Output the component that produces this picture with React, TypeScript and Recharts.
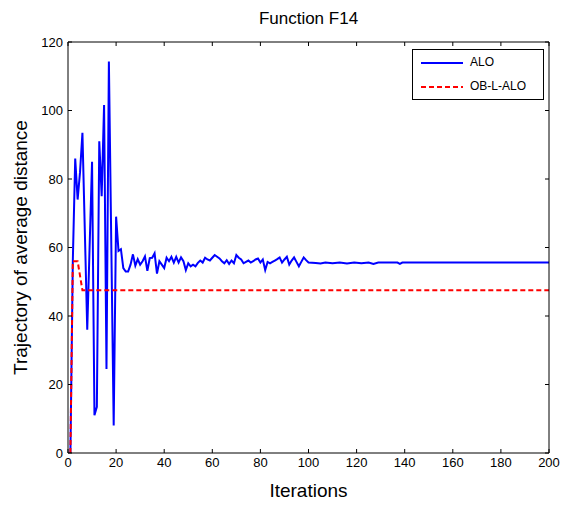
import { Line, LineChart, XAxis, YAxis } from 'recharts'

const aloIter = [
  1, 2, 3, 4, 5, 6, 8, 10, 11, 12, 13, 14, 15, 16, 17, 19, 20, 21, 22, 23, 24, 25, 26, 27, 28, 29, 30,
  31, 32, 33, 34, 35, 36, 37, 38, 39, 40, 41, 42, 43, 44, 45, 46, 47, 48, 49, 50, 51, 52, 53, 54, 55,
  56, 57, 58, 59, 60, 61, 62, 63, 64, 65, 66, 67, 68, 69, 70, 71, 72, 73, 74, 75, 76, 77, 78, 79, 80,
  81, 82, 83, 84, 85, 86, 87, 88, 89, 90, 91, 92, 93, 94, 95, 96, 97, 98, 99, 100, 103, 105, 107, 110,
  113, 116, 119, 122, 125, 127, 129, 137, 138, 139, 200,
]
const aloValues = [
  0, 56, 86, 74, 82, 93.5, 36, 85, 11, 13.5, 91, 75, 101.6, 24.5, 114.3, 8, 69, 59, 59.5, 54, 53, 53,
  55, 58, 54.7, 56.6, 55, 56, 57.4, 53.2, 56.9, 57, 58.3, 52.4, 56, 55, 54, 57, 56, 57.3, 55.6, 57.3,
  55.6, 57.1, 56, 53.4, 55.4, 54.5, 55, 54.5, 55.5, 56.2, 55.6, 57, 56.5, 56.2, 57, 57.8, 57.3, 56.8,
  56, 55.4, 56.3, 55.2, 56.2, 55.4, 57.8, 57, 56.5, 55.4, 55.8, 56.2, 55.6, 56, 56.5, 56.8, 55.6, 56.5,
  53.4, 55.8, 55.4, 55.8, 56.2, 56.6, 57.1, 55.6, 56.5, 57.3, 55, 56.2, 57.1, 55.8, 54.5, 55.8, 57.1,
  56.3, 55.6, 55.5, 55.3, 55.6, 55.4, 55.6, 55.3, 55.6, 55.4, 55.6, 55.2, 55.6, 55.6, 55.2, 55.6, 55.6,
]

const oblIter = [1, 2, 4, 6, 200]
const oblValues = [0, 56, 56, 47.5, 47.5]

const xTicks = [0, 20, 40, 60, 80, 100, 120, 140, 160, 180, 200]
const yTicks = [0, 20, 40, 60, 80, 100, 120]

const aloData = aloIter.map((it, i) => ({ it, v: aloValues[i] }))
const oblData = oblIter.map((it, i) => ({ it, v: oblValues[i] }))

const font = 'Liberation Sans, Arial, sans-serif'
const tickStyle = { fill: '#000', fontSize: 13, fontFamily: font }

function LegendBox() {
  return (
    <div
      style={{
        position: 'absolute',
        left: 412,
        top: 49,
        width: 132,
        height: 51,
        border: '1px solid #000',
        background: '#fff',
        fontFamily: font,
        fontSize: 12,
        boxSizing: 'border-box',
      }}
    >
      <svg width={50} height={50} style={{ position: 'absolute', left: 0, top: 0 }}>
        <line x1={8} x2={52} y1={13} y2={13} stroke="#0000ff" strokeWidth={2} />
        <line x1={8} x2={52} y1={37} y2={37} stroke="#ff0000" strokeWidth={2} strokeDasharray="5 3" />
      </svg>
      <div style={{ position: 'absolute', left: 57, top: 5 }}>ALO</div>
      <div style={{ position: 'absolute', left: 57, top: 29 }}>OB-L-ALO</div>
    </div>
  )
}

export default function App() {
  return (
    <div style={{ position: 'fixed', left: 0, top: 0, width: 563, height: 508, background: '#fff' }}>
      <div
        style={{
          position: 'absolute',
          top: 9,
          left: 68,
          width: 481,
          textAlign: 'center',
          fontFamily: font,
          fontSize: 17,
        }}
      >
        Function F14
      </div>
      <LineChart width={563} height={508} margin={{ top: 41, right: 13, bottom: 25, left: 28 }}>
        <XAxis
          xAxisId="b"
          dataKey="it"
          type="number"
          domain={[0, 200]}
          ticks={xTicks}
          allowDataOverflow
          stroke="#000"
          tick={tickStyle}
          tickSize={-4}
          tickMargin={9}
          height={30}
          label={{ value: 'Iterations', position: 'insideBottom', offset: -14, fontSize: 19, fontFamily: font, fill: '#000' }}
        />
        <XAxis
          xAxisId="t"
          orientation="top"
          dataKey="it"
          type="number"
          domain={[0, 200]}
          ticks={xTicks}
          allowDataOverflow
          stroke="#000"
          tickFormatter={() => ''}
          tickSize={-4}
          height={1}
        />
        <YAxis
          yAxisId="l"
          type="number"
          domain={[0, 120]}
          ticks={yTicks}
          stroke="#000"
          tick={tickStyle}
          tickSize={-4}
          tickMargin={9}
          width={40}
          label={{
            value: 'Trajectory of average distance',
            angle: -90,
            position: 'insideLeft',
            offset: -8,
            style: { textAnchor: 'middle' },
            fontSize: 19,
            fontFamily: font,
            fill: '#000',
          }}
        />
        <YAxis
          yAxisId="r"
          orientation="right"
          type="number"
          domain={[0, 120]}
          ticks={yTicks}
          allowDataOverflow
          stroke="#000"
          tickFormatter={() => ''}
          tickSize={-4}
          width={1}
        />
        <Line
          xAxisId="t"
          yAxisId="r"
          data={oblData}
          dataKey="v"
          stroke="none"
          dot={false}
          legendType="none"
          isAnimationActive={false}
        />
        <Line
          xAxisId="b"
          yAxisId="l"
          data={aloData}
          dataKey="v"
          name="ALO"
          stroke="#0000ff"
          strokeWidth={2}
          dot={false}
          isAnimationActive={false}
        />
        <Line
          xAxisId="b"
          yAxisId="l"
          data={oblData}
          dataKey="v"
          name="OB-L-ALO"
          stroke="#ff0000"
          strokeWidth={2}
          strokeDasharray="5 3"
          dot={false}
          isAnimationActive={false}
        />
      </LineChart>
      <LegendBox />
    </div>
  )
}
